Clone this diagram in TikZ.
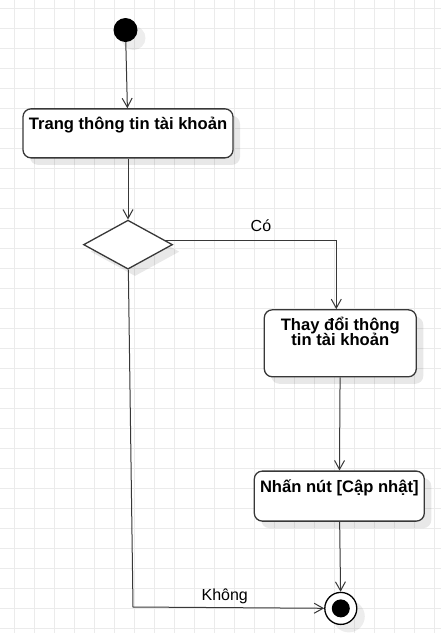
\documentclass[tikz,border=0pt]{standalone}
\usepackage{fontspec}
\setmainfont{Liberation Sans}
\usepackage{tikz}
\usetikzlibrary{positioning, shapes, shapes.geometric, arrows.meta, shadows}
\definecolor{gridgray}{rgb}{0.92,0.92,0.92}
\definecolor{linegray}{rgb}{0.22,0.22,0.22}
\tikzstyle{act}=[%
      rectangle, rounded corners=8pt, draw=linegray, line width=1.3pt, fill=white,
      drop shadow={shadow xshift=7pt, shadow yshift=-7pt, fill=black, opacity=0.09},
      font={\bfseries\fontsize{16.6}{15}\selectfont\lineskiplimit=-20pt},
      align=center, inner xsep=4pt, inner ysep=4pt
]
\tikzstyle{dec}=[%
      diamond, draw=linegray, line width=1.3pt, fill=white,
      drop shadow={shadow xshift=7pt, shadow yshift=-7pt, fill=black, opacity=0.09},
      minimum width=89pt, minimum height=49pt, inner sep=0pt
]
\tikzstyle{ini}=[%
      circle, fill=black, minimum size=24pt, inner sep=0pt,
      drop shadow={shadow xshift=8pt, shadow yshift=-8pt, fill=black, opacity=0.07}
]
\tikzstyle{fin}=[%
      circle, draw=black, line width=1.3pt, fill=white, minimum size=32pt, inner sep=0pt,
      drop shadow={shadow xshift=8pt, shadow yshift=-8pt, fill=black, opacity=0.07},
      path picture={\fill[black] (path picture bounding box.center) circle (9pt);}
]
\tikzstyle{flow}=[draw=linegray, line width=1pt, -{Straight Barb[length=9pt, width=10pt]}]
\tikzstyle{lbl}=[font=\fontsize{16}{19}\selectfont, text=black]
\tikzstyle{gridline}=[draw=gridgray, line width=1pt]
\begin{document}
\begin{tikzpicture}[x=1pt, y=-1pt]
    \useasboundingbox[fill=white] (0,0) rectangle (441,633);
    \foreach \gx in {14.5,34.5,...,434.5}
      \draw[gridline] (\gx,0) -- (\gx,633);
    \foreach \gy in {8,28,...,628}
      \draw[gridline] (0,\gy) -- (441,\gy);

    \node[ini] (start) at (125.5,30) {};
    \node[act, minimum width=210pt, text height=17pt, text depth=24pt] (info) [below=66pt of start, xshift=2.5pt] {Trang thông tin tài khoản};
    \node[dec] (choice) [below=61pt of info] {};
    \node[act, minimum width=152pt, text height=32pt, text depth=27pt] (edit) [below right=64.5pt and 90.5pt of choice.east] {Thay đổi thông\\tin tài khoản};
    \node[act, minimum width=170pt, text height=17pt, text depth=25pt] (press) [below=93pt of edit, xshift=-1pt] {Nhấn nút [Cập nhật]};
    \node[fin] (stop) [below=70pt of press, xshift=1.5pt] {};
    \coordinate (corner) at (133,607);

    \path[flow] (start) edge (info)
          (info) edge (choice)
          (edit) edge (press)
          (press) edge (stop)
    ;
    \draw[flow] (choice.7) -| node[lbl, pos=0.28, above=5pt] {Có} ([xshift=-4pt]edit.north);
    \draw[flow] (choice) -- (corner) -- node[lbl, pos=0.48, above] {Không} (stop);

  \end{tikzpicture}
\end{document}
